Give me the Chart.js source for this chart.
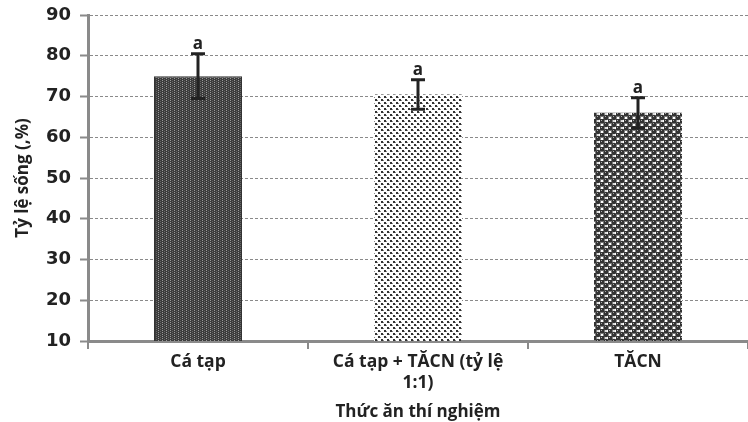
<!DOCTYPE html>
<html>
<head>
<meta charset="utf-8">
<script src="https://cdn.jsdelivr.net/npm/chart.js@4"></script>
<style>
  html, body { margin: 0; padding: 0; background: #fff; }
  #wrap { width: 748px; height: 422px; }
</style>
</head>
<body>
<div id="wrap"><canvas id="miGrafico" width="748" height="422"></canvas></div>
<script>
// datos
var categorias = [["Cá tạp"], ["Cá tạp + TĂCN (tỷ lệ", "1:1)"], ["TĂCN"]];
var tyLeSong = [75, 70.5, 66];
var saiSo = [5.5, 3.6, 3.7];
var nhanThongKe = ["a", "a", "a"];
var yTicks = [10, 20, 30, 40, 50, 60, 70, 80, 90];

// patrones de relleno
function patron(tipo) {
    var c = document.createElement("canvas");
    var g = c.getContext("2d");
    if (tipo === 1) {
        c.width = 4; c.height = 4;
        g.fillStyle = "#3c3c3c"; g.fillRect(0, 0, 4, 4);
        g.fillStyle = "#9a9a9a"; g.fillRect(2, 0, 1, 1); g.fillRect(2, 2, 1, 1);
        g.fillStyle = "#666"; g.fillRect(0, 1, 1, 1); g.fillRect(0, 3, 1, 1);
    } else if (tipo === 2) {
        c.width = 6; c.height = 6;
        g.fillStyle = "#ffffff"; g.fillRect(0, 0, 6, 6);
        g.fillStyle = "#333"; g.fillRect(0, 0, 2, 2); g.fillRect(3, 3, 2, 2);
        g.fillStyle = "#888"; g.fillRect(2, 1, 1, 1); g.fillRect(5, 4, 1, 1);
    } else {
        c.width = 8; c.height = 7;
        g.fillStyle = "#ffffff"; g.fillRect(0, 0, 8, 7);
        g.fillStyle = "#333";
        [[2, 2], [6, 5.5], [6, -1.5], [-2, 5.5], [10, 5.5]].forEach(function (p) {
            g.beginPath(); g.arc(p[0], p[1], 2.7, 0, Math.PI * 2); g.fill();
        });
        g.fillStyle = "#aaa";
        g.fillRect(1, 1, 1, 1); g.fillRect(5, 4, 1, 1);
    }
    return g.createPattern(c, "repeat");
}

var ctx = document.getElementById("miGrafico").getContext("2d");

// barras de error y letras
var barrasError = {
    id: "barrasError",
    afterDatasetsDraw: function (chart) {
        var c = chart.ctx;
        var y = chart.scales.y;
        var meta = chart.getDatasetMeta(0);
        c.save();
        c.strokeStyle = "#222";
        c.lineWidth = 3;
        meta.data.forEach(function (bar, i) {
            var x = bar.x;
            var arriba = y.getPixelForValue(tyLeSong[i] + saiSo[i]);
            var abajo = y.getPixelForValue(tyLeSong[i] - saiSo[i]);
            c.beginPath();
            c.moveTo(x, arriba); c.lineTo(x, abajo);
            c.moveTo(x - 7, arriba); c.lineTo(x + 7, arriba);
            c.moveTo(x - 7, abajo); c.lineTo(x + 7, abajo);
            c.stroke();
            c.fillStyle = "#222";
            c.font = "bold 17px 'Open Sans', sans-serif";
            c.textAlign = "center";
            c.textBaseline = "bottom";
            c.fillText(nhanThongKe[i], x, arriba - 1);
        });
        c.restore();
    }
};

var myChart = new Chart(ctx, {
    type: "bar",
    data: {
        labels: categorias,
        datasets: [{
            data: tyLeSong,
            backgroundColor: [patron(1), patron(2), patron(3)],
            borderColor: ["#333", "#ddd", "#ddd"],
            borderWidth: [1, 0, 0],
            barPercentage: 0.4,
            categoryPercentage: 1.0
        }]
    },
    options: {
        responsive: false,
        animation: false,
        layout: { padding: { top: 15, right: 0, left: 0, bottom: 0 } },
        plugins: { legend: { display: false }, tooltip: { enabled: false } },
        scales: {
            x: {
                afterFit: function (s) { s.height = 81; },
                border: { color: "#8a8a8a", width: 3 },
                grid: { drawOnChartArea: false, color: "#8a8a8a", lineWidth: 2, tickLength: 8 },
                ticks: {
                    color: "#222",
                    font: { family: "'Open Sans', sans-serif", weight: "bold", size: 17.5 },
                    padding: 3,
                    maxRotation: 0
                },
                title: {
                    display: true,
                    text: "Thức ăn thí nghiệm",
                    color: "#222",
                    font: { family: "'Open Sans', sans-serif", weight: "bold", size: 17 },
                    padding: { top: 0, bottom: 0 }
                }
            },
            y: {
                min: 10,
                max: 90,
                afterFit: function (s) { s.width = 88; s.paddingTop = 0; },
                afterBuildTicks: function (s) {
                    s.ticks = yTicks.map(function (v) { return { value: v }; });
                },
                border: { color: "#8a8a8a", width: 3, dash: [3, 2] },
                grid: {
                    color: "#8a8a8a",
                    lineWidth: 1,
                    tickLength: 8,
                    tickColor: "#8a8a8a",
                    tickWidth: 2,
                    tickBorderDash: [1, 0]
                },
                ticks: {
                    color: "#222",
                    font: { family: "'DejaVu Sans', sans-serif", weight: "bold", size: 18 },
                    padding: 9
                },
                title: {
                    display: true,
                    text: "Tỷ lệ sống (,%)",
                    color: "#222",
                    font: { family: "'Open Sans', sans-serif", weight: "bold", size: 17 },
                    padding: { top: 13, bottom: 4 }
                }
            }
        }
    },
    plugins: [barrasError]
});
</script>
</body>
</html>
